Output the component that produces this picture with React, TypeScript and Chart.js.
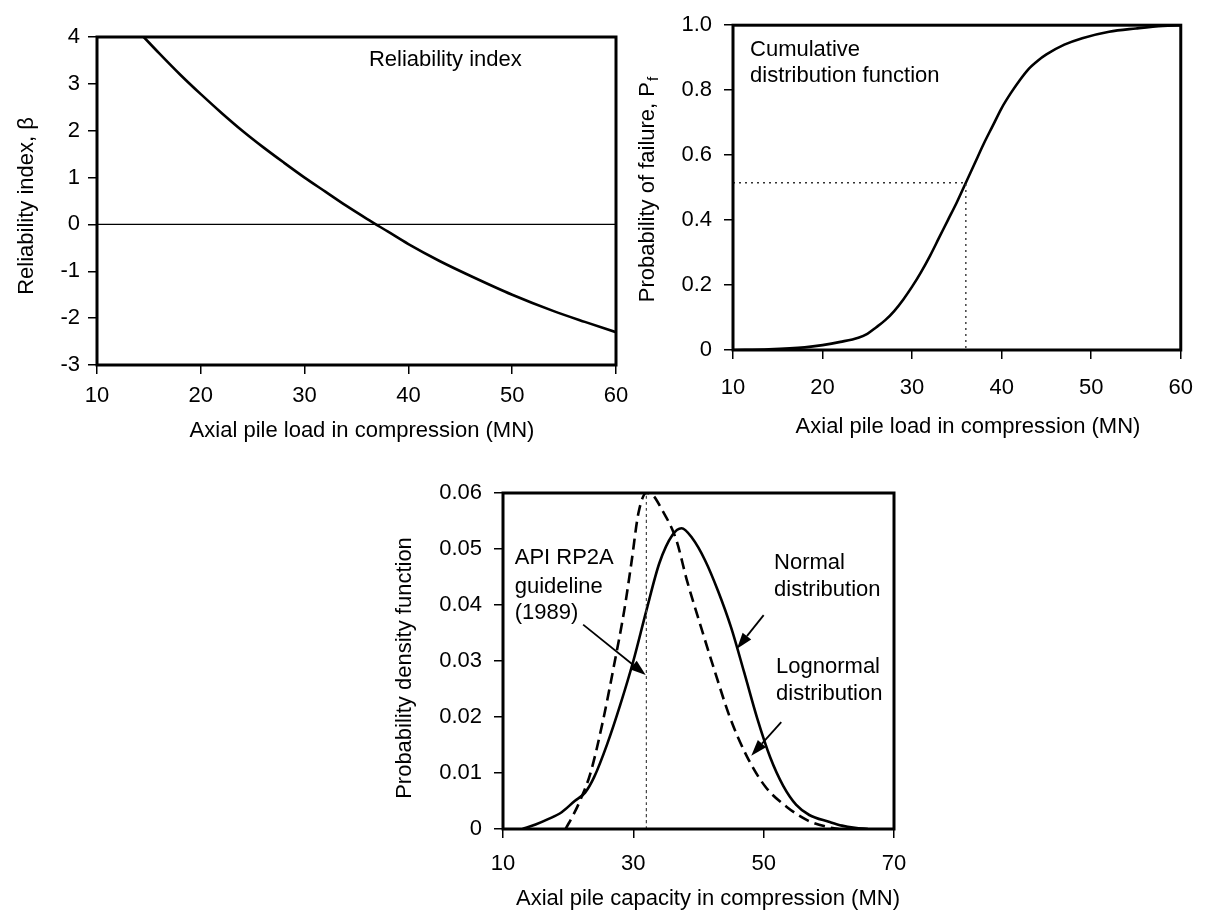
import React, { useEffect, useRef } from "react";
import { Chart, registerables } from "chart.js";
Chart.register(...registerables);

const FONT = "'Liberation Sans', Arial, Helvetica, sans-serif";
const FS = 22;

// ---------- Chart 1: Reliability index ----------
const relLoad = [14.5, 16, 18, 20, 22, 24, 26, 28, 30, 32, 34, 36, 38, 40, 43, 46, 50, 54, 57, 60];
const relBeta = [4.0, 3.65, 3.2, 2.78, 2.38, 2.0, 1.65, 1.32, 1.0, 0.7, 0.4, 0.12, -0.15, -0.42, -0.78, -1.1, -1.5, -1.85, -2.08, -2.3];
const relZeroX = [10, 60];
const relZeroY = [0, 0];
const relXTicks = [10, 20, 30, 40, 50, 60];
const relXLabels = ["10", "20", "30", "40", "50", "60"];
const relYTicks = [-3, -2, -1, 0, 1, 2, 3, 4];
const relYLabels = ["-3", "-2", "-1", "0", "1", "2", "3", "4"];
const relNoteLines = ["Reliability index"];
const relNoteX = 36.2;
const relNoteY = [3.52];

// ---------- Chart 2: Cumulative distribution ----------
const cdfLoad = [10, 14, 18, 20, 22, 24, 25, 26, 27, 28, 29, 30, 31, 32, 33, 34, 35, 36, 37, 38, 39, 40, 41, 42, 43, 44, 45, 47, 49, 52, 55, 58, 60];
const cdfProb = [0, 0.002, 0.008, 0.015, 0.025, 0.038, 0.05, 0.07, 0.092, 0.12, 0.155, 0.195, 0.24, 0.29, 0.345, 0.4, 0.455, 0.515, 0.575, 0.635, 0.69, 0.745, 0.79, 0.83, 0.865, 0.89, 0.91, 0.94, 0.96, 0.98, 0.99, 0.998, 1.0];
const cdfGuideX = [10, 36, 36];
const cdfGuideY = [0.515, 0.515, 0];
const cdfXTicks = [10, 20, 30, 40, 50, 60];
const cdfXLabels = ["10", "20", "30", "40", "50", "60"];
const cdfYTicks = [0, 0.2, 0.4, 0.6, 0.8, 1.0];
const cdfYLabels = ["0", "0.2", "0.4", "0.6", "0.8", "1.0"];
const cdfNoteLines = ["Cumulative", "distribution function"];
const cdfNoteX = 11.9;
const cdfNoteY = [0.924, 0.845];

// ---------- Chart 3: Probability density ----------
const normX = [13, 15, 17, 19, 21, 22.6, 24, 26, 28, 30, 32, 34, 36, 37.4, 39, 41, 43, 45, 47, 49, 51, 53, 55, 57, 60, 62, 64, 66];
const normY = [0, 0.0008, 0.0018, 0.003, 0.005, 0.0065, 0.0093, 0.0152, 0.0222, 0.03, 0.039, 0.0475, 0.0525, 0.0537, 0.052, 0.048, 0.0425, 0.036, 0.028, 0.0198, 0.0128, 0.0077, 0.0043, 0.0025, 0.0013, 0.0006, 0.0002, 0];
const lognX = [19.6, 21, 21.8, 23.4, 25.3, 27, 28.6, 29.7, 30.8, 32, 32.8, 34.4, 36.6, 38.2, 40.4, 42.6, 44.8, 47.5, 50.3, 53.6, 56.8, 60, 61.5];
const lognY = [0, 0.003, 0.005, 0.0099, 0.0191, 0.029, 0.039, 0.0475, 0.0565, 0.06, 0.0598, 0.057, 0.0516, 0.0445, 0.036, 0.0278, 0.02, 0.0128, 0.0075, 0.0039, 0.0015, 0.0003, 0];
const apiLineX = [32, 32];
const apiLineY = [0, 0.06];
const pdfXTicks = [10, 30, 50, 70];
const pdfXLabels = ["10", "30", "50", "70"];
const pdfYTicks = [0, 0.01, 0.02, 0.03, 0.04, 0.05, 0.06];
const pdfYLabels = ["0", "0.01", "0.02", "0.03", "0.04", "0.05", "0.06"];
const apiNoteLines = ["API RP2A", "guideline", "(1989)"];
const apiNoteX = 11.8;
const apiNoteY = [0.0484, 0.0432, 0.0386];
const normNoteLines = ["Normal", "distribution"];
const normNoteX = 51.6;
const normNoteY = [0.0475, 0.0427];
const lognNoteLines = ["Lognormal", "distribution"];
const lognNoteX = 51.9;
const lognNoteY = [0.029, 0.0242];
const arrowTailX = [22.3, 50.0, 52.7];
const arrowTailY = [0.0365, 0.0382, 0.0191];
const arrowHeadX = [31.9, 45.9, 48.1];
const arrowHeadY = [0.0275, 0.0322, 0.0131];

const pts = (xs: number[], ys: number[]) => xs.map((x, i) => ({ x, y: ys[i] }));

const overlayPlugin = {
  id: "overlay",
  afterDatasetsDraw(chart: any, _a: any, opts: any) {
    const { ctx, chartArea: a, scales } = chart;
    ctx.save();
    ctx.strokeStyle = "#000";
    ctx.lineWidth = 3;
    ctx.strokeRect(a.left, a.top, a.right - a.left, a.bottom - a.top);
    ctx.fillStyle = "#000";
    ctx.textBaseline = "middle";
    ctx.textAlign = "left";
    ctx.font = `${FS}px ${FONT}`;
    for (const n of opts.notes || []) {
      const px = scales.x.getPixelForValue(n.x);
      n.lines.forEach((ln: string, i: number) => {
        ctx.fillText(ln, px, scales.y.getPixelForValue(n.ys[i]));
      });
    }
    const ar = opts.arrows;
    if (ar) {
      for (let i = 0; i < ar.tx.length; i++) {
        const x1 = scales.x.getPixelForValue(ar.tx[i]);
        const y1 = scales.y.getPixelForValue(ar.ty[i]);
        const x2 = scales.x.getPixelForValue(ar.hx[i]);
        const y2 = scales.y.getPixelForValue(ar.hy[i]);
        const ang = Math.atan2(y2 - y1, x2 - x1);
        const L = 16, W = 5.5;
        ctx.strokeStyle = "#000";
        ctx.lineWidth = 1.8;
        ctx.beginPath();
        ctx.moveTo(x1, y1);
        ctx.lineTo(x2 - L * Math.cos(ang), y2 - L * Math.sin(ang));
        ctx.stroke();
        ctx.fillStyle = "#000";
        ctx.beginPath();
        ctx.moveTo(x2, y2);
        ctx.lineTo(x2 - L * Math.cos(ang) + W * Math.sin(ang), y2 - L * Math.sin(ang) - W * Math.cos(ang));
        ctx.lineTo(x2 - L * Math.cos(ang) - W * Math.sin(ang), y2 - L * Math.sin(ang) + W * Math.cos(ang));
        ctx.closePath();
        ctx.fill();
      }
    }
    ctx.fillStyle = "#000";
    for (const t of opts.titles || []) {
      ctx.save();
      ctx.translate(t.x, t.y);
      if (t.rotate) ctx.rotate(-Math.PI / 2);
      ctx.font = `${FS}px ${FONT}`;
      ctx.textBaseline = "middle";
      const w = ctx.measureText(t.text).width;
      let sw = 0;
      if (t.sub) {
        ctx.font = `${Math.round(FS * 0.7)}px ${FONT}`;
        sw = ctx.measureText(t.sub).width;
      }
      const x0 = -(w + sw) / 2;
      ctx.font = `${FS}px ${FONT}`;
      ctx.textAlign = "left";
      ctx.fillText(t.text, x0, 0);
      if (t.sub) {
        ctx.font = `${Math.round(FS * 0.7)}px ${FONT}`;
        ctx.fillText(t.sub, x0 + w + 1, 6);
      }
      ctx.restore();
    }
    ctx.restore();
  },
};

function makeOptions(p: any) {
  const tickFont = { family: FONT, size: FS };
  return {
    responsive: false,
    animation: false,
    layout: { padding: p.pad },
    plugins: {
      legend: { display: false },
      tooltip: { enabled: false },
      overlay: p.overlay,
    },
    elements: { point: { radius: 0 }, line: { borderCapStyle: "butt" } },
    scales: {
      x: {
        type: "linear",
        min: p.xMin,
        max: p.xMax,
        afterBuildTicks: (s: any) => {
          s.ticks = p.xTicks.map((v: number) => ({ value: v }));
        },
        afterFit: (s: any) => {
          s.height = p.xHeight;
        },
        grid: { display: true, drawOnChartArea: false, drawTicks: true, tickLength: 9, color: "#000", lineWidth: 1.5 },
        border: { display: false },
        ticks: {
          color: "#000",
          font: tickFont,
          padding: p.xPad,
          maxRotation: 0,
          autoSkip: false,
          callback: (_v: any, i: number) => p.xLabels[i],
        },
      },
      y: {
        type: "linear",
        min: p.yMin,
        max: p.yMax,
        afterBuildTicks: (s: any) => {
          s.ticks = p.yTicks.map((v: number) => ({ value: v }));
        },
        afterFit: (s: any) => {
          s.width = p.yWidth;
        },
        grid: { display: true, drawOnChartArea: false, drawTicks: true, tickLength: 9, color: "#000", lineWidth: 1.5 },
        border: { display: false },
        ticks: {
          color: "#000",
          font: tickFont,
          padding: p.yPad,
          autoSkip: false,
          callback: (_v: any, i: number) => p.yLabels[i],
        },
      },
    },
  };
}

function ChartBox({ left, top, width, height, build }: any) {
  const ref = useRef<HTMLCanvasElement>(null);
  useEffect(() => {
    const chart = new Chart(ref.current as HTMLCanvasElement, build());
    return () => chart.destroy();
  }, []);
  return (
    <div style={{ position: "absolute", left, top, width, height }}>
      <canvas ref={ref} width={width} height={height} style={{ width, height, display: "block" }} />
    </div>
  );
}

const solid = (data: any, w = 2.6) => ({
  data,
  borderColor: "#000",
  borderWidth: w,
  pointRadius: 0,
  fill: false,
  cubicInterpolationMode: "monotone",
});

function buildRel() {
  return {
    type: "line",
    data: {
      datasets: [
        solid(pts(relZeroX, relZeroY), 1.3),
        solid(pts(relLoad, relBeta)),
      ],
    },
    options: makeOptions({
      pad: { left: 0, top: 37, right: 34, bottom: 0 },
      xMin: 10, xMax: 60, xTicks: relXTicks, xLabels: relXLabels, xHeight: 85, xPad: 9,
      yMin: -3, yMax: 4, yTicks: relYTicks, yLabels: relYLabels, yWidth: 97, yPad: 8,
      overlay: {
        notes: [{ x: relNoteX, ys: relNoteY, lines: relNoteLines }],
        titles: [
          { text: "Reliability index, β", x: 27, y: 206, rotate: true },
          { text: "Axial pile load in compression (MN)", x: 362, y: 431 },
        ],
      },
    }),
    plugins: [overlayPlugin],
  };
}

function buildCdf() {
  return {
    type: "line",
    data: {
      datasets: [
        { ...solid(pts(cdfGuideX, cdfGuideY), 1.4), borderDash: [2, 4], borderColor: "#333", cubicInterpolationMode: "default", tension: 0 },
        solid(pts(cdfLoad, cdfProb)),
      ],
    },
    options: makeOptions({
      pad: { left: 0, top: 21, right: 17, bottom: 0 },
      xMin: 10, xMax: 60, xTicks: cdfXTicks, xLabels: cdfXLabels, xHeight: 100, xPad: 16,
      yMin: 0, yMax: 1, yTicks: cdfYTicks, yLabels: cdfYLabels, yWidth: 103, yPad: 12,
      overlay: {
        notes: [{ x: cdfNoteX, ys: cdfNoteY, lines: cdfNoteLines }],
        titles: [
          { text: "Probability of failure, P", sub: "f", x: 18, y: 190, rotate: true },
          { text: "Axial pile load in compression (MN)", x: 338, y: 427 },
        ],
      },
    }),
    plugins: [overlayPlugin],
  };
}

function buildPdf() {
  return {
    type: "line",
    data: {
      datasets: [
        { ...solid(pts(apiLineX, apiLineY), 1.2), borderDash: [3, 3], borderColor: "#444" },
        solid(pts(normX, normY)),
        { ...solid(pts(lognX, lognY)), borderDash: [11, 6] },
      ],
    },
    options: makeOptions({
      pad: { left: 0, top: 43, right: 46, bottom: 0 },
      xMin: 10, xMax: 70, xTicks: pdfXTicks, xLabels: pdfXLabels, xHeight: 86, xPad: 13,
      yMin: 0, yMax: 0.06, yTicks: pdfYTicks, yLabels: pdfYLabels, yWidth: 123, yPad: 12,
      overlay: {
        notes: [
          { x: apiNoteX, ys: apiNoteY, lines: apiNoteLines },
          { x: normNoteX, ys: normNoteY, lines: normNoteLines },
          { x: lognNoteX, ys: lognNoteY, lines: lognNoteLines },
        ],
        arrows: { tx: arrowTailX, ty: arrowTailY, hx: arrowHeadX, hy: arrowHeadY },
        titles: [
          { text: "Probability density function", x: 25, y: 218, rotate: true },
          { text: "Axial pile capacity in compression (MN)", x: 328, y: 449 },
        ],
      },
    }),
    plugins: [overlayPlugin],
  };
}

export default function App() {
  return (
    <div style={{ position: "absolute", left: 0, top: 0, width: 1209, height: 915, background: "#fff", overflow: "hidden" }}>
      <ChartBox left={0} top={0} width={650} height={450} build={buildRel} />
      <ChartBox left={630} top={0} width={579} height={450} build={buildCdf} />
      <ChartBox left={380} top={450} width={560} height={465} build={buildPdf} />
    </div>
  );
}
